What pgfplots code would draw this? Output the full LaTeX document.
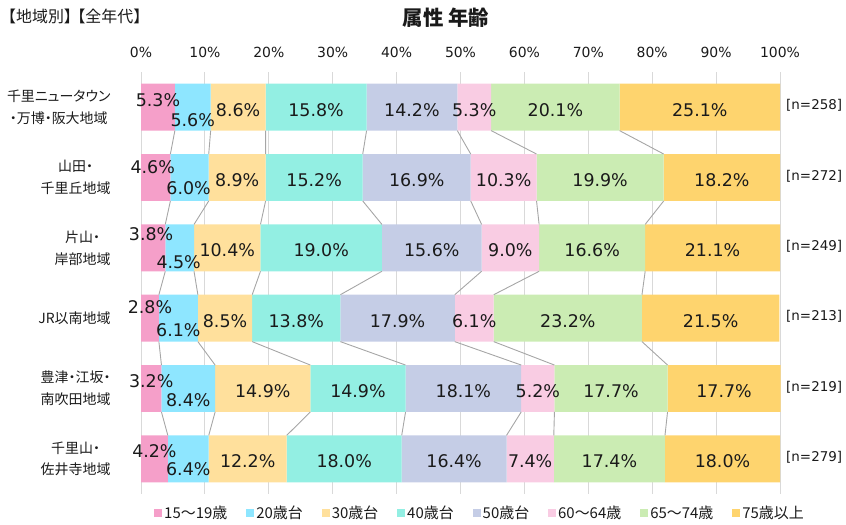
\documentclass[border=0pt]{standalone}
\usepackage{fontspec}
\setmainfont{DejaVu Sans}
\newfontfamily\jp{Noto Sans CJK JP}
\newfontfamily\jpp[RawFeature=+palt]{Noto Sans CJK JP}
\usepackage{pgfplots}
\usepackage{pgfplotstable}
\pgfplotsset{compat=1.18}
\definecolor{cA}{HTML}{F59FC9}
\definecolor{cB}{HTML}{8EE6FF}
\definecolor{cC}{HTML}{FFE09C}
\definecolor{cD}{HTML}{93EFE3}
\definecolor{cE}{HTML}{C5CDE6}
\definecolor{cF}{HTML}{F9CCE3}
\definecolor{cG}{HTML}{CBECB3}
\definecolor{cH}{HTML}{FED46E}
\definecolor{gridc}{HTML}{D9D9D9}
\definecolor{linec}{HTML}{A6A6A6}
\definecolor{txt}{HTML}{1A1A1A}

% shares per region (rows top to bottom)
\pgfplotstableread{
r a b c d e f g h
1 5.3 5.6 8.6 15.8 14.2 5.3 20.1 25.1
2 4.6 6.0 8.9 15.2 16.9 10.3 19.9 18.2
3 3.8 4.5 10.4 19.0 15.6 9.0 16.6 21.1
4 2.8 6.1 8.5 13.8 17.9 6.1 23.2 21.5
5 3.2 8.4 14.9 14.9 18.1 5.2 17.7 17.7
6 4.2 6.4 12.2 18.0 16.4 7.4 17.4 18.0
}\data

% pick the n-th of six values (label offsets per row)
\newcommand\pick[7]{\ifcase#1\or#2\or#3\or#4\or#5\or#6\or#7\fi}

\pgfplotsset{
  sq legend/.style={legend image code/.code={\fill[##1] (0bp,-4bp) rectangle (8bp,4bp);}},
  seg/.style={fill=#1, draw=none, sq legend,
    visualization depends on={y \as \myRow}},
}

\begin{document}
\begin{tikzpicture}
\path[use as bounding box] (0,0) rectangle (846bp,525bp);
\node[font=\jp\fontsize{16}{18}\selectfont, text=txt, anchor=west, inner sep=0pt] at (0bp,509bp) {【地域別】\kern-0.65em【全年代】};
\node[font=\jp\bfseries\fontsize{20.5}{24}\selectfont, text=txt, anchor=center, inner sep=0pt] at (446bp,507bp) {属性 年齢};

\begin{axis}[
  at={(141bp,31bp)}, anchor=south west,
  width=639bp, height=422bp, scale only axis,
  xbar stacked, bar width=0.667,
  xmin=0, xmax=100, ymin=0.5, ymax=6.5, y dir=reverse,
  clip=false,
  axis line style={draw=none}, major tick length=0,
  xmajorgrids, grid style={gridc, line width=0.9bp},
  xtick={0,10,...,100},
  xticklabels={0\%,10\%,20\%,30\%,40\%,50\%,60\%,70\%,80\%,90\%,100\%},
  xticklabel pos=upper,
  xticklabel style={font=\fontsize{14}{16}\selectfont, text=txt, yshift=11bp},
  ytick={1,2,3,4,5,6},
  yticklabels={{千里ニュータウン\\・万博・阪大地域},{山田・\\千里丘地域},{片山・\\岸部地域},{JR以南地域},{豊津・江坂・\\南吹田地域},{千里山・\\佐井寺地域}},
  yticklabel style={font=\jpp\fontsize{14}{22}\selectfont, text=txt, align=center, xshift=-27bp},
  point meta=explicit,
  nodes near coords={\pgfmathprintnumber[fixed,fixed zerofill,precision=1]{\pgfplotspointmeta}\%},
  every node near coord/.append style={font=\fontsize{17.5}{20}\selectfont, text=txt, anchor=center, inner sep=0pt,
     /utils/exec={\pgfmathtruncatemacro\myR{round(\myRow)}}},
  /pgf/number format/assume math mode=true,
  legend columns=8,
  legend style={at={(0.5305,-0.045)}, anchor=center, draw=none, fill=none,
     font=\jp\fontsize{15}{17}\selectfont, text=txt,
     nodes={inner sep=2bp},
     /tikz/every even column/.append style={column sep=17bp}},
]
\addplot[seg=cA, every node near coord/.append style={
   xshift={(\pick{\myR}{0}{-3}{-2}{0}{0}{0})*1bp},
   yshift={(\pick{\myR}{7.5}{10.5}{13.7}{10.8}{7.2}{7.3})*1bp}}]
  table[x=a, y=r, meta=a] {\data};
\addplot[seg=cB, every node near coord/.append style={
   xshift={(\pick{\myR}{0}{-1}{-1}{0}{0}{0})*1bp},
   yshift={(\pick{\myR}{-13}{-10.2}{-14.7}{-12.3}{-12}{-10.7})*1bp}}]
  table[x=b, y=r, meta=b] {\data};
\addplot[seg=cC, every node near coord/.append style={yshift=-2.5bp}] table[x=c, y=r, meta=c] {\data};
\addplot[seg=cD, every node near coord/.append style={yshift=-2.5bp}] table[x=d, y=r, meta=d] {\data};
\addplot[seg=cE, every node near coord/.append style={yshift=-2.5bp}] table[x=e, y=r, meta=e] {\data};
\addplot[seg=cF, every node near coord/.append style={yshift=-2.5bp}] table[x=f, y=r, meta=f] {\data};
\addplot[seg=cG, every node near coord/.append style={yshift=-2.5bp}] table[x=g, y=r, meta=g] {\data};
\addplot[seg=cH, every node near coord/.append style={yshift=-2.5bp}] table[x=h, y=r, meta=h] {\data};
\legend{15～19歳,20歳台,30歳台,40歳台,50歳台,60～64歳,65～74歳,75歳以上}
\end{axis}

% series lines between bars (cumulative boundaries) and sample sizes at right
\begin{axis}[
  at={(141bp,31bp)}, anchor=south west,
  width=639bp, height=422bp, scale only axis,
  xmin=0, xmax=100, ymin=0.5, ymax=6.5, y dir=reverse,
  clip=false, unbounded coords=jump,
  axis line style={draw=none}, major tick length=0,
  xtick=\empty,
  ytick={1,2,3,4,5,6},
  yticklabels={[n=258],[n=272],[n=249],[n=213],[n=219],[n=279]},
  yticklabel pos=right,
  yticklabel style={font=\fontsize{13.5}{16}\selectfont, text=txt, anchor=west, inner sep=0pt, xshift=6bp, yshift=1.5bp},
]
\addplot[linec, line width=0.9bp, no marks] coordinates {
 (5.3,1.3335)(4.6,1.6665) (0,nan) (4.6,2.3335)(3.8,2.6665) (0,nan) (3.8,3.3335)(2.8,3.6665) (0,nan)
 (2.8,4.3335)(3.2,4.6665) (0,nan) (3.2,5.3335)(4.2,5.6665)};
\addplot[linec, line width=0.9bp, no marks] coordinates {
 (10.9,1.3335)(10.6,1.6665) (0,nan) (10.6,2.3335)(8.3,2.6665) (0,nan) (8.3,3.3335)(8.9,3.6665) (0,nan)
 (8.9,4.3335)(11.6,4.6665) (0,nan) (11.6,5.3335)(10.6,5.6665)};
\addplot[linec, line width=0.9bp, no marks] coordinates {
 (19.5,1.3335)(19.5,1.6665) (0,nan) (19.5,2.3335)(18.7,2.6665) (0,nan) (18.7,3.3335)(17.4,3.6665) (0,nan)
 (17.4,4.3335)(26.5,4.6665) (0,nan) (26.5,5.3335)(22.8,5.6665)};
\addplot[linec, line width=0.9bp, no marks] coordinates {
 (35.3,1.3335)(34.7,1.6665) (0,nan) (34.7,2.3335)(37.7,2.6665) (0,nan) (37.7,3.3335)(31.2,3.6665) (0,nan)
 (31.2,4.3335)(41.4,4.6665) (0,nan) (41.4,5.3335)(40.8,5.6665)};
\addplot[linec, line width=0.9bp, no marks] coordinates {
 (49.5,1.3335)(51.6,1.6665) (0,nan) (51.6,2.3335)(53.3,2.6665) (0,nan) (53.3,3.3335)(49.1,3.6665) (0,nan)
 (49.1,4.3335)(59.5,4.6665) (0,nan) (59.5,5.3335)(57.2,5.6665)};
\addplot[linec, line width=0.9bp, no marks] coordinates {
 (54.8,1.3335)(61.9,1.6665) (0,nan) (61.9,2.3335)(62.3,2.6665) (0,nan) (62.3,3.3335)(55.2,3.6665) (0,nan)
 (55.2,4.3335)(64.7,4.6665) (0,nan) (64.7,5.3335)(64.6,5.6665)};
\addplot[linec, line width=0.9bp, no marks] coordinates {
 (74.9,1.3335)(81.8,1.6665) (0,nan) (81.8,2.3335)(78.9,2.6665) (0,nan) (78.9,3.3335)(78.4,3.6665) (0,nan)
 (78.4,4.3335)(82.4,4.6665) (0,nan) (82.4,5.3335)(82.0,5.6665)};
\end{axis}
\end{tikzpicture}
\end{document}
